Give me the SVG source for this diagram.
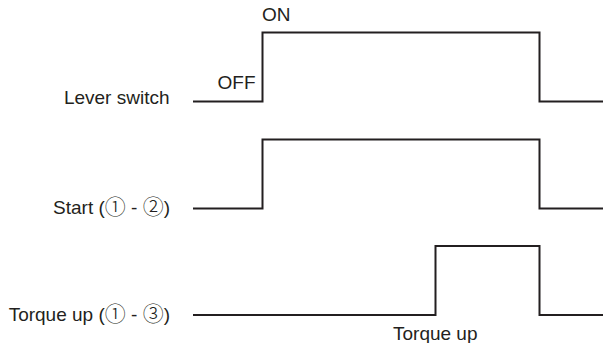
<svg xmlns="http://www.w3.org/2000/svg" width="603" height="343" viewBox="0 0 603 343">
<style>
.t{font-family:"Liberation Sans",Arial,"DejaVu Sans",sans-serif;font-size:19px;fill:#231f20}
.c{font-family:"Noto Sans CJK JP","Noto Sans CJK SC","DejaVu Sans",sans-serif;font-size:21px;font-weight:300}
.w{fill:none;stroke:#231f20;stroke-width:2;stroke-linejoin:miter}
</style>
<rect width="603" height="343" fill="#fff"/>
<g id="lever-switch">
<text class="t" x="169.5" y="104" text-anchor="end">Lever switch</text>
<text class="t" x="255.5" y="88.5" text-anchor="end">OFF</text>
<text class="t" x="262" y="21">ON</text>
</g>
<g id="start">
<text class="t" x="170" y="213.5" text-anchor="end">Start (<tspan class="c">①</tspan> - <tspan class="c">②</tspan>)</text>
</g>
<g id="torque-up">
<text class="t" x="170" y="320.5" text-anchor="end">Torque up (<tspan class="c">①</tspan> - <tspan class="c">③</tspan>)</text>
<text class="t" x="393" y="340">Torque up</text>
</g>
<g id="connectors">
<polyline class="w" points="193,101.5 262.5,101.5 262.5,32.5 539.5,32.5 539.5,101.5 603,101.5"/>
<polyline class="w" points="193,208.5 262.5,208.5 262.5,139.5 539.5,139.5 539.5,208.5 603,208.5"/>
<polyline class="w" points="193,315 435.5,315 435.5,246 539.5,246 539.5,315 603,315"/>
</g>
</svg>
